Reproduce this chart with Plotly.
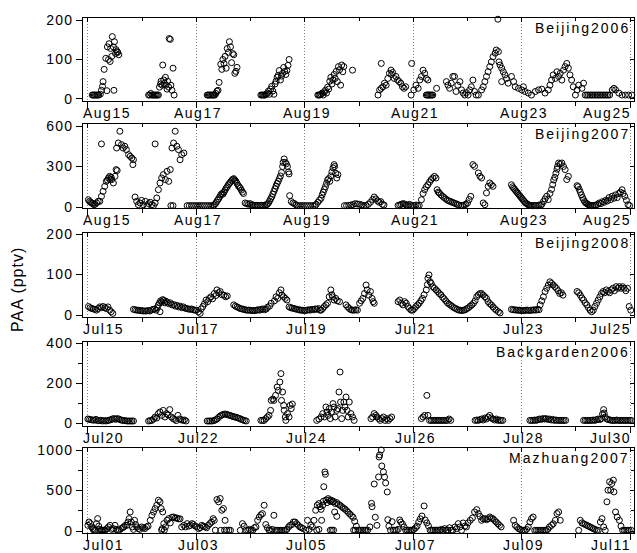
import plotly.graph_objects as go

# ---------------- data (day offset from first labelled date, PAA in pptv) ----------------
tick_days = [0, 2, 4, 6, 8, 10]
minor_days = [1, 3, 5, 7, 9]
labels_beijing2006 = ["Aug15", "Aug17", "Aug19", "Aug21", "Aug23", "Aug25"]
labels_beijing2007 = ["Aug15", "Aug17", "Aug19", "Aug21", "Aug23", "Aug25"]
labels_beijing2008 = ["Jul15", "Jul17", "Jul19", "Jul21", "Jul23", "Jul25"]
labels_backgarden2006 = ["Jul20", "Jul22", "Jul24", "Jul26", "Jul28", "Jul30"]
labels_mazhuang2007 = ["Jul01", "Jul03", "Jul05", "Jul07", "Jul09", "Jul11"]

panel_names = ["Beijing2006", "Beijing2007", "Beijing2008", "Backgarden2006", "Mazhuang2007"]
y_major = [[0, 100, 200], [0, 300, 600], [0, 100, 200], [0, 200, 400], [0, 500, 1000]]
y_minor = [[], [], [], [100, 300], [250, 750]]
y_ranges = [[-5.1, 205.1], [-7.4, 614.8], [-4.9, 202.5], [-15, 405], [-24.7, 1024.7]]

beijing2006 = [
    (0.08,10),(0.10,10),(0.12,10),(0.14,10),(0.16,10),(0.18,10),(0.20,10),(0.23,12),(0.25,22),(0.27,32),(0.28,44),(0.30,75),(0.33,103),(0.35,21),(0.36,132),(0.38,100),(0.39,140),(0.41,95),(0.42,128),(0.44,108),(0.45,158),(0.47,132),(0.48,22),(0.49,145),(0.51,115),(0.52,125),(0.54,120),(0.55,118),(0.57,112),
    (1.12,10),(1.14,10),(1.16,14),(1.18,10),(1.20,10),(1.22,10),(1.24,10),(1.26,10),(1.28,10),(1.30,10),(1.32,30),(1.34,38),(1.35,45),(1.37,35),(1.38,86),(1.40,48),(1.41,40),(1.43,55),(1.44,35),(1.46,25),(1.47,45),(1.49,30),(1.50,153),(1.52,151),(1.53,35),(1.55,22),(1.57,78),(1.59,10),
    (2.20,10),(2.22,10),(2.24,10),(2.26,10),(2.28,10),(2.30,10),(2.32,10),(2.34,10),(2.36,14),(2.38,20),(2.40,22),(2.42,42),(2.45,88),(2.47,75),(2.49,100),(2.51,90),(2.53,108),(2.55,78),(2.57,128),(2.59,118),(2.61,145),(2.63,132),(2.65,92),(2.67,115),(2.69,112),(2.71,65),(2.73,70),(2.75,80),
    (3.19,10),(3.21,10),(3.23,10),(3.25,10),(3.27,10),(3.29,12),(3.31,15),(3.33,20),(3.35,12),(3.37,25),(3.39,32),(3.41,20),(3.43,12),(3.45,38),(3.47,45),(3.49,55),(3.51,60),(3.53,72),(3.55,48),(3.57,58),(3.59,65),(3.61,80),(3.63,70),(3.65,62),(3.67,72),(3.69,85),(3.71,100),
    (4.24,10),(4.26,10),(4.28,10),(4.30,12),(4.32,15),(4.34,10),(4.36,18),(4.38,22),(4.40,15),(4.42,30),(4.44,25),(4.46,45),(4.48,55),(4.50,38),(4.52,48),(4.54,62),(4.56,52),(4.58,70),(4.60,44),(4.62,82),(4.64,74),(4.66,35),(4.68,86),(4.70,69),(4.72,82),(4.88,73),
    (5.35,10),(5.38,23),(5.41,90),(5.41,27),(5.44,31),(5.47,40),(5.50,35),(5.53,52),(5.56,65),(5.59,73),(5.60,62),(5.62,67),(5.65,52),(5.68,57),(5.71,48),(5.74,44),(5.77,40),(5.80,31),(5.83,27),(5.86,31),
    (5.96,10),(5.97,90),(6.01,23),(6.05,35),(6.09,27),(6.12,48),(6.15,57),(6.18,73),(6.21,65),(6.24,52),(6.27,48),(6.24,10),(6.26,10),(6.28,10),(6.30,10),(6.32,10),(6.34,10),(6.36,10),(6.43,27),
    (6.61,44),(6.64,35),(6.67,27),(6.70,40),(6.73,57),(6.76,57),(6.79,19),(6.82,35),(6.86,44),(6.89,23),(6.92,15),(6.95,10),(6.98,16),(7.01,10),(7.04,23),(7.07,31),(7.10,48),(7.13,19),(7.16,10),(7.20,10),
    (7.26,23),(7.29,31),(7.32,44),(7.35,57),(7.38,69),(7.41,82),(7.44,94),(7.47,107),(7.51,116),(7.53,124),(7.56,202),(7.57,120),(7.58,94),(7.60,86),(7.63,78),(7.63,44),(7.66,69),(7.69,61),(7.72,52),(7.75,40),(7.81,57),
    (7.85,44),(7.88,31),(7.94,27),(8.00,23),(8.03,31),(8.06,19),(8.12,15),(8.18,10),(8.25,19),(8.31,23),(8.37,25),(8.43,15),(8.49,23),
    (8.52,35),(8.55,48),(8.58,61),(8.62,52),(8.65,69),(8.68,57),(8.71,65),(8.74,48),(8.77,73),(8.80,82),(8.83,90),(8.86,78),(8.89,61),(8.92,48),(8.95,31),(8.99,10),(9.02,23),(9.05,35),(9.11,27),(9.14,40),
    (9.17,10),(9.20,10),(9.23,10),(9.26,10),(9.29,10),(9.32,10),(9.35,10),(9.38,10),(9.41,10),(9.44,10),(9.47,10),(9.50,10),(9.53,10),(9.56,10),(9.59,10),(9.62,10),(9.67,23),(9.70,27),(9.73,23),(9.79,15),(9.85,10),(9.91,10),(9.97,10),(10.03,10),
]

beijing2007 = [
    (0.01,54),(0.03,42),(0.05,35),(0.07,30),(0.09,25),(0.11,17),(0.13,20),(0.16,30),(0.19,42),(0.22,42),(0.25,467),(0.25,79),(0.28,116),(0.31,153),(0.34,190),(0.36,200),(0.38,215),(0.40,227),(0.41,203),(0.43,220),(0.44,203),(0.47,178),(0.50,227),(0.52,277),(0.53,437),(0.54,270),(0.56,474),(0.59,561),(0.62,462),(0.65,437),(0.68,450),(0.71,425),(0.75,388),(0.78,375),(0.81,363),(0.83,314),(0.84,350),
    (0.87,74),(0.90,42),(0.93,17),(0.96,30),(0.99,49),(1.02,17),(1.06,42),(1.09,10),(1.12,25),(1.15,35),(1.18,17),(1.21,10),
    (1.24,467),(1.24,30),(1.27,67),(1.30,128),(1.33,178),(1.36,215),(1.39,240),(1.43,203),(1.46,264),(1.49,190),(1.52,277),(1.53,10),(1.55,437),(1.57,10),(1.58,474),(1.61,561),(1.64,450),(1.67,425),(1.70,350),(1.73,388),(1.77,400),
    (1.83,10),(1.87,10),(1.91,10),(1.95,10),(1.99,10),(2.03,10),(2.07,10),(2.11,10),(2.15,10),(2.19,10),(2.23,10),(2.27,10),(2.31,10),
    (2.33,15),(2.35,25),(2.37,35),(2.39,50),(2.41,60),(2.43,75),(2.45,90),(2.47,100),(2.49,95),(2.51,110),(2.53,125),(2.55,140),(2.57,150),(2.59,165),(2.61,175),(2.63,185),(2.65,195),(2.67,205),(2.69,210),(2.71,200),(2.73,190),(2.75,175),(2.77,160),(2.79,150),(2.81,140),(2.83,125),(2.85,110),(2.87,100),
    (2.90,30),(2.93,25),(2.96,20),(2.99,25),(3.02,15),(3.05,15),(3.08,12),(3.11,12),(3.14,12),(3.17,12),(3.20,12),(3.23,12),(3.26,14),(3.29,16),
    (3.31,20),(3.33,30),(3.35,45),(3.37,60),(3.39,75),(3.41,95),(3.43,115),(3.45,135),(3.47,155),(3.49,175),(3.51,190),(3.53,210),(3.55,230),(3.57,255),(3.59,300),(3.60,330),(3.62,356),(3.64,330),(3.66,320),(3.68,300),(3.70,260),(3.71,245),(3.72,84),(3.75,40),(3.78,30),(3.81,25),(3.84,15),
    (3.87,10),(3.91,10),(3.95,10),(3.99,10),(4.03,10),(4.07,10),(4.11,10),(4.15,10),(4.19,10),
    (4.21,20),(4.24,35),(4.27,50),(4.30,65),(4.32,90),(4.34,110),(4.36,130),(4.38,150),(4.40,175),(4.42,200),(4.44,210),(4.46,190),(4.48,230),(4.50,260),(4.52,290),(4.54,314),(4.55,300),(4.57,250),(4.59,215),(4.61,240),
    (4.73,10),(4.77,10),(4.81,12),(4.85,15),(4.89,18),(4.93,25),(4.97,22),(5.01,20),(5.05,15),(5.09,10),(5.13,12),(5.17,20),(5.21,35),(5.25,55),(5.28,74),(5.31,60),(5.34,45),(5.37,35),(5.40,40),(5.43,20),(5.46,15),
    (5.72,12),(5.75,15),(5.78,20),(5.81,25),(5.84,22),(5.87,15),(5.90,12),(5.93,20),(5.96,10),(5.99,12),(6.02,10),(6.05,15),(6.08,10),(6.11,12),
    (6.15,54),(6.18,100),(6.21,128),(6.24,150),(6.27,165),(6.30,185),(6.33,203),(6.36,215),(6.39,227),(6.42,215),(6.44,128),(6.46,110),(6.48,104),(6.51,90),(6.54,79),(6.57,70),(6.60,60),(6.63,50),(6.66,45),(6.69,40),(6.72,35),(6.75,30),(6.78,25),(6.81,20),(6.84,15),(6.88,12),(6.91,10),(6.94,15),(6.97,20),(7.00,30),(7.03,55),(7.06,79),
    (7.10,314),(7.13,301),(7.20,252),(7.23,227),(7.26,215),(7.29,30),(7.32,17),(7.35,104),(7.38,153),(7.41,178),(7.44,165),(7.47,153),
    (7.81,165),(7.83,150),(7.85,140),(7.87,130),(7.89,120),(7.91,110),(7.93,100),(7.95,90),(7.97,80),(7.99,70),(8.01,60),(8.03,50),(8.05,40),(8.07,30),(8.09,25),(8.11,20),(8.13,15),(8.15,12),(8.17,10),(8.20,10),(8.23,12),(8.26,10),(8.29,10),(8.32,15),(8.35,12),
    (8.37,20),(8.40,40),(8.43,60),(8.46,80),(8.49,55),(8.52,100),(8.55,130),(8.57,165),(8.59,200),(8.61,220),(8.63,250),(8.65,280),(8.66,300),(8.68,326),(8.71,320),(8.74,326),(8.77,300),(8.80,277),(8.83,203),(8.86,227),
    (9.02,158),(9.04,150),(9.06,130),(9.08,110),(9.10,90),(9.12,70),(9.14,55),(9.16,40),(9.18,30),(9.20,25),(9.22,20),(9.24,15),(9.26,12),(9.28,10),(9.31,10),(9.34,12),(9.37,15),(9.40,20),(9.43,30),(9.46,25),(9.49,40),(9.52,35),
    (9.55,50),(9.58,45),(9.61,70),(9.64,55),(9.67,80),(9.70,65),(9.73,90),(9.76,70),(9.79,100),(9.82,110),(9.85,128),(9.87,100),(9.90,79),(9.93,50),(9.96,17),(9.99,10),
]

beijing2008 = [
    (0.01,21),(0.04,18),(0.07,16),(0.10,15),(0.13,14),(0.16,12),(0.19,16),(0.22,20),(0.25,18),(0.28,21),(0.31,18),(0.34,16),(0.37,20),(0.40,12),(0.43,8),(0.46,4),
    (0.84,14),(0.87,13),(0.90,12),(0.93,12),(0.96,11),(0.99,11),(1.02,10),(1.05,10),(1.08,10),(1.11,11),(1.14,10),(1.17,12),(1.20,14),(1.23,15),(1.26,12),
    (1.28,18),(1.30,25),(1.32,30),(1.33,8),(1.34,35),(1.36,32),(1.38,38),(1.40,36),(1.42,30),(1.44,34),(1.46,32),(1.49,28),(1.52,30),(1.55,25),(1.58,26),(1.61,22),(1.64,24),(1.67,20),(1.70,22),(1.73,18),(1.76,20),(1.79,17),(1.82,16),(1.85,15),(1.88,14),(1.91,15),(1.94,13),(1.97,12),(2.00,12),
    (2.04,8),(2.07,4),(2.09,15),(2.12,21),(2.15,28),(2.18,37),(2.21,33),(2.24,41),(2.27,45),(2.30,40),(2.33,53),(2.36,48),(2.38,62),(2.41,55),(2.44,58),(2.47,50),(2.51,49),(2.54,45),(2.57,47),
    (2.69,25),(2.72,22),(2.75,20),(2.78,18),(2.81,16),(2.84,15),(2.87,14),(2.90,13),(2.93,12),(2.96,12),(2.99,12),(3.02,11),(3.05,11),(3.08,11),(3.11,12),(3.14,13),(3.17,12),(3.20,14),(3.23,15),(3.26,13),(3.29,15),
    (3.31,19),(3.35,22),(3.38,29),(3.42,-8),(3.44,35),(3.47,45),(3.50,41),(3.53,55),(3.56,62),(3.58,49),(3.61,45),(3.64,41),(3.67,37),
    (3.71,20),(3.74,18),(3.77,17),(3.80,16),(3.83,15),(3.86,14),(3.89,13),(3.92,12),(3.95,12),(3.98,11),(4.01,11),(4.04,12),(4.07,13),(4.10,12),(4.13,14),(4.16,13),(4.19,15),(4.22,14),(4.25,16),(4.28,12),
    (4.30,12),(4.33,16),(4.36,21),(4.39,25),(4.42,29),(4.45,45),(4.48,62),(4.50,50),(4.51,45),(4.54,37),(4.57,41),(4.60,35),(4.64,33),
    (4.76,25),(4.79,20),(4.82,16),(4.85,13),(4.88,12),(4.91,12),(4.94,13),(4.97,12),
    (5.01,29),(5.04,35),(5.07,41),(5.10,53),(5.13,74),(5.15,62),(5.18,49),(5.21,58),(5.24,41),(5.26,33),(5.28,29),
    (5.72,33),(5.75,37),(5.78,29),(5.81,25),(5.84,33),(5.87,29),(5.90,21),(5.93,16),(5.96,12),(5.99,12),(6.02,16),
    (6.05,21),(6.08,25),(6.11,29),(6.14,35),(6.17,41),(6.20,50),
    (6.24,62),(6.26,75),(6.27,91),(6.29,99),(6.31,82),(6.33,78),(6.36,70),(6.39,66),(6.42,62),(6.45,58),(6.48,53),(6.51,50),(6.54,44),(6.57,40),(6.60,35),(6.63,30),(6.66,27),(6.69,24),(6.72,21),(6.75,18),(6.78,16),(6.81,14),(6.84,12),(6.87,12),(6.90,11),(6.93,12),(6.96,13),(6.99,16),(7.02,18),(7.05,22),(7.08,25),(7.11,29),(7.14,35),(7.17,45),(7.20,50),(7.23,53),(7.26,53),(7.29,49),(7.32,45),(7.35,41),(7.38,33),(7.41,28),(7.44,25),(7.47,20),(7.50,16),(7.53,12),(7.57,8),(7.60,5),
    (7.81,14),(7.84,13),(7.87,13),(7.90,12),(7.93,12),(7.96,12),(7.99,11),(8.02,11),(8.05,11),(8.08,12),(8.11,12),(8.14,11),(8.17,12),(8.20,12),(8.23,13),(8.26,12),(8.29,14),(8.32,13),
    (8.34,25),(8.37,35),(8.40,45),(8.43,58),(8.46,66),(8.49,74),(8.52,82),(8.55,78),(8.58,74),(8.61,70),(8.64,66),(8.67,60),(8.70,53),(8.73,55),(8.76,49),
    (9.02,58),(9.05,55),(9.08,49),(9.11,42),(9.14,37),(9.17,30),(9.20,25),(9.23,18),(9.26,12),(9.29,8),(9.32,12),(9.35,21),(9.38,29),(9.41,37),(9.44,45),(9.47,53),(9.50,58),(9.53,55),(9.56,62),(9.59,58),(9.62,55),(9.65,62),(9.68,66),(9.71,60),(9.74,70),(9.77,66),(9.80,70),(9.83,66),(9.86,70),(9.89,66),(9.92,60),(9.95,66),(9.98,21),(10.01,12),
]

backgarden2006 = [
    (0.00,20),(0.03,18),(0.06,16),(0.09,15),(0.12,14),(0.15,18),(0.18,12),(0.21,12),(0.24,14),(0.27,10),(0.30,12),(0.33,10),(0.36,12),(0.39,14),(0.42,16),(0.45,20),(0.48,22),(0.51,18),(0.54,22),(0.57,20),(0.60,16),(0.63,14),(0.66,12),(0.69,12),(0.72,10),(0.75,10),(0.78,10),(0.81,10),(0.84,10),
    (1.12,10),(1.15,12),(1.18,13),(1.21,20),(1.24,30),(1.27,25),(1.30,47),(1.33,55),(1.36,38),(1.39,63),(1.42,30),(1.45,47),(1.48,40),(1.51,67),(1.54,30),(1.57,22),(1.60,18),(1.63,12),(1.66,38),(1.69,20),(1.72,17),(1.75,13),(1.78,15),(1.81,10),
    (2.20,10),(2.23,10),(2.26,10),(2.29,10),(2.32,12),(2.35,15),(2.38,20),(2.41,28),(2.44,35),(2.47,40),(2.50,43),(2.53,45),(2.56,43),(2.59,40),(2.62,38),(2.65,35),(2.68,32),(2.71,30),(2.74,28),(2.77,25),(2.80,22),(2.83,18),(2.86,15),(2.89,12),(2.92,10),
    (3.19,13),(3.22,13),(3.25,13),(3.28,22),(3.31,30),(3.34,38),(3.37,63),(3.38,113),(3.41,120),(3.43,113),(3.46,138),(3.49,180),(3.51,163),(3.54,205),(3.56,247),(3.57,113),(3.59,155),(3.61,88),(3.62,63),(3.64,30),(3.65,13),(3.68,47),(3.71,30),(3.73,88),(3.75,72),(3.77,95),
    (4.22,13),(4.26,20),(4.30,30),(4.33,47),(4.36,30),(4.39,80),(4.41,55),(4.43,38),(4.45,72),(4.47,22),(4.49,55),(4.52,97),(4.54,80),(4.56,30),(4.59,63),(4.61,72),(4.63,155),(4.65,255),(4.66,105),(4.68,22),(4.70,63),(4.72,105),(4.74,80),(4.76,130),(4.78,63),(4.80,30),(4.82,105),(4.85,47),(4.88,30),(4.91,13),
    (5.22,22),(5.25,30),(5.28,47),(5.31,38),(5.33,30),(5.36,22),(5.39,13),(5.42,22),(5.45,30),(5.48,13),(5.51,22),(5.54,13),(5.57,22),(5.60,30),
    (6.15,22),(6.18,30),(6.21,38),(6.25,138),(6.27,38),(6.30,13),(6.33,13),(6.36,13),(6.39,13),(6.42,13),(6.45,13),(6.48,13),(6.51,13),(6.54,13),(6.57,13),(6.60,13),(6.63,13),(6.66,20),(6.69,13),
    (7.14,13),(7.17,15),(7.20,13),(7.23,17),(7.26,20),(7.29,15),(7.32,25),(7.35,20),(7.38,30),(7.41,38),(7.44,25),(7.47,20),(7.50,15),(7.53,20),(7.56,13),(7.59,15),(7.62,13),(7.65,13),
    (8.15,13),(8.18,13),(8.21,13),(8.24,15),(8.27,13),(8.30,17),(8.33,20),(8.36,18),(8.39,22),(8.42,20),(8.45,22),(8.48,18),(8.51,20),(8.54,15),(8.57,18),(8.60,13),(8.63,15),(8.66,13),(8.69,13),(8.72,13),(8.75,13),(8.78,13),(8.81,13),
    (9.14,13),(9.17,13),(9.20,13),(9.23,13),(9.26,13),(9.29,13),(9.32,15),(9.35,13),(9.38,17),(9.41,20),(9.44,17),(9.47,22),(9.49,45),(9.51,67),(9.52,50),(9.54,30),(9.57,20),(9.60,17),(9.63,15),(9.66,13),(9.69,13),(9.72,13),(9.75,15),(9.78,13),(9.81,13),(9.84,13),(9.87,13),(9.90,13),(9.93,13),(9.96,13),(9.99,13),(10.02,13),
]

mazhuang2007 = [
    (0.00,70),(0.02,111),(0.05,90),(0.07,50),(0.09,30),(0.10,17),(0.12,8),(0.14,10),(0.16,91),(0.18,153),(0.20,60),(0.22,20),(0.24,10),(0.26,8),(0.28,10),(0.30,10),(0.32,10),(0.35,29),(0.38,50),(0.41,70),(0.44,20),(0.47,29),(0.50,70),(0.52,20),(0.55,8),(0.58,10),(0.61,29),(0.64,40),(0.66,50),(0.69,70),(0.72,70),(0.74,111),(0.76,153),(0.78,235),(0.80,111),(0.82,50),(0.84,20),(0.86,132),(0.88,80),(0.90,50),(0.93,29),(0.96,20),(0.99,50),(1.02,40),(1.05,30),(1.08,50),(1.11,60),
    (1.15,132),(1.18,194),(1.21,235),(1.24,277),(1.27,318),(1.30,380),(1.33,360),(1.35,277),(1.37,29),(1.38,235),(1.40,91),(1.43,50),(1.46,132),(1.49,153),(1.52,100),(1.55,170),(1.58,173),(1.61,160),(1.64,161),(1.67,150),(1.70,150),(1.73,50),(1.36,10),(1.41,10),
    (1.77,70),(1.80,50),(1.83,91),(1.86,60),(1.89,70),(1.92,91),(1.95,80),(1.98,60),(2.01,50),(2.04,29),(2.07,40),(2.10,70),(2.13,60),(2.16,50),(2.19,40),(2.22,70),(2.25,91),(2.28,110),(2.31,153),(2.33,130),(2.35,10),(2.38,388),(2.41,360),(2.44,401),(2.45,8),(2.47,256),(2.50,277),(2.52,10),(2.53,132),(2.56,10),(2.60,10),(2.63,8),
    (2.81,8),(2.85,91),(2.88,60),(2.91,10),(2.95,8),(2.98,20),(3.01,10),(3.04,8),(3.07,40),(3.10,50),(3.13,132),(3.16,173),(3.19,200),(3.22,215),(3.25,318),(3.28,80),(3.31,40),(3.34,10),(3.37,8),(3.40,20),(3.43,194),(3.46,10),(3.49,8),(3.52,8),(3.55,8),(3.58,8),(3.61,8),(3.64,10),(3.67,20),(3.70,50),(3.73,70),(3.76,80),(3.79,111),(3.82,111),(3.85,90),(3.88,70),(3.91,50),(3.94,40),(3.97,30),
    (4.02,10),(4.05,132),(4.08,20),(4.11,70),(4.14,50),(4.17,132),(4.20,256),(4.22,10),(4.23,318),(4.26,339),(4.26,20),(4.28,300),(4.30,267),(4.31,132),(4.33,317),(4.34,366),(4.35,547),(4.37,729),(4.38,700),(4.39,383),(4.41,350),(4.43,400),(4.45,383),(4.47,366),(4.47,10),(4.49,380),(4.50,10),(4.51,360),(4.53,366),(4.53,10),(4.55,235),(4.56,339),(4.59,350),(4.59,181),(4.62,330),(4.65,317),(4.68,300),(4.71,284),(4.74,270),(4.77,251),(4.80,230),(4.83,210),(4.86,190),(4.89,169),(4.90,10),(4.92,119),(4.93,10),(4.95,60),(4.98,10),(5.01,10),(5.04,10),(5.07,10),(5.10,10),(5.13,10),(5.16,10),
    (5.20,50),(5.23,342),(5.24,300),(5.28,580),(5.30,170),(5.33,70),(5.36,667),(5.37,914),(5.38,939),(5.41,1000),(5.42,803),(5.45,729),(5.47,667),(5.49,593),(5.52,482),(5.53,140),(5.55,60),
    (5.58,10),(5.61,115),(5.63,10),(5.66,10),(5.69,10),(5.72,20),(5.75,136),(5.77,110),(5.80,86),(5.83,50),(5.86,10),(5.89,10),(5.92,10),(5.95,10),(5.98,10),(6.01,20),(6.04,37),(6.07,60),(6.10,111),(6.13,150),(6.16,185),(6.20,309),(6.22,136),(6.25,100),(6.28,62),(6.31,10),(6.34,10),(6.37,10),(6.40,10),(6.43,10),(6.46,10),(6.49,10),(6.52,20),(6.55,10),(6.58,29),(6.61,10),(6.64,10),(6.67,40),(6.70,10),(6.73,10),
    (6.77,50),(6.80,29),(6.83,91),(6.86,50),(6.89,8),(6.92,99),(6.95,60),(6.98,50),(7.01,100),(7.05,132),(7.09,160),(7.13,235),(7.17,264),(7.20,215),(7.23,180),(7.26,132),(7.29,150),(7.32,153),(7.35,140),(7.38,150),(7.41,173),(7.44,160),(7.47,150),(7.50,130),(7.53,110),(7.56,90),(7.59,70),(7.62,50),
    (7.85,132),(7.88,70),(7.91,50),(7.94,30),(7.97,20),(8.00,8),(8.03,8),(8.06,8),(8.09,20),(8.12,50),(8.15,111),(8.18,153),(8.21,173),(8.24,8),(8.27,8),(8.30,8),(8.33,8),(8.36,8),(8.39,8),(8.42,8),(8.45,8),(8.48,20),(8.51,50),(8.55,70),(8.58,90),(8.62,132),(8.65,215),(8.68,235),(8.71,132),
    (9.05,8),(9.08,132),(9.11,100),(9.14,90),(9.17,80),(9.20,70),(9.23,60),(9.26,50),(9.29,40),(9.32,29),(9.35,20),(9.38,8),(9.41,8),(9.45,111),(9.48,153),(9.51,50),(9.54,8),(9.57,360),(9.59,504),(9.62,607),(9.64,504),(9.66,586),(9.69,628),(9.70,483),(9.73,235),(9.76,173),(9.80,132),(9.83,60),(9.86,8),(9.89,8),(9.92,8),(9.95,8),(9.98,8),(10.02,8),
]

panel_data = [beijing2006, beijing2007, beijing2008, backgarden2006, mazhuang2007]
panel_labels = [labels_beijing2006, labels_beijing2007, labels_beijing2008,
                labels_backgarden2006, labels_mazhuang2007]

# ---------------- layout geometry ----------------
W, H = 637, 553
ML, MR, MT, MB = 83, 3, 18, 20
panel_px = [(18, 101), (124, 208), (233, 317), (342, 426), (448, 533)]
x_range = [-0.09, 10.07]
FONT = "Liberation Sans, Arial, sans-serif"


def spaced(text, sp):
    return f'<span style="letter-spacing:{sp}px">{text}</span>'


fig = go.Figure()
layout = {}
annotations = []
ph = H - MT - MB
pw = W - ML - MR

for i in range(5):
    k = i + 1
    sx = "" if k == 1 else str(k)
    xa, ya = "x" + sx, "y" + sx
    data = panel_data[i]
    fig.add_trace(go.Scatter(
        x=[d for d, v in data], y=[v for d, v in data], mode="markers",
        xaxis=xa, yaxis=ya, cliponaxis=False, showlegend=False, hoverinfo="skip",
        marker=dict(symbol="circle-open", size=6, color="black", line=dict(width=1, color="black")),
    ))
    top, bot = panel_px[i]
    dom = [(H - MB - bot) / ph, (H - MB - top) / ph]
    layout["xaxis" + sx] = dict(
        domain=[0, 1], anchor=ya, range=x_range, tickmode="array", tickvals=tick_days,
        showticklabels=False, ticks="outside", ticklen=6, tickwidth=1, tickcolor="black",
        showline=True, linecolor="black", linewidth=1, mirror=True,
        showgrid=True, gridcolor="#808080", griddash="1px,2px", gridwidth=1, zeroline=False,
        minor=dict(tickvals=minor_days, ticks="outside", ticklen=4, tickcolor="black", showgrid=False),
    )
    layout["yaxis" + sx] = dict(
        domain=dom, anchor=xa, range=y_ranges[i], tickmode="array", tickvals=y_major[i],
        ticktext=[spaced(str(v), 1.2) for v in y_major[i]],
        ticks="outside", ticklen=6, tickwidth=1, tickcolor="black",
        showline=True, linecolor="black", linewidth=1, mirror=True,
        showgrid=False, zeroline=False, tickfont=dict(size=14, color="black", family=FONT),
        minor=dict(tickvals=y_minor[i], ticks="outside", ticklen=4, tickcolor="black", showgrid=False),
    )
    # mirrored inward ticks on top and right
    tx = str(k + 5)
    layout["xaxis" + tx] = dict(
        overlaying=xa, anchor=ya, side="top", range=x_range, tickmode="array", tickvals=tick_days,
        ticks="inside", ticklen=4, tickcolor="black", showticklabels=False, showline=False,
        showgrid=False, zeroline=False,
        minor=dict(tickvals=minor_days, ticks="inside", ticklen=3, tickcolor="black", showgrid=False),
    )
    layout["yaxis" + tx] = dict(
        overlaying=ya, anchor=xa, side="right", range=y_ranges[i], tickmode="array",
        tickvals=y_major[i], ticks="inside", ticklen=4, tickcolor="black", showticklabels=False,
        showline=False, showgrid=False, zeroline=False,
        minor=dict(tickvals=y_minor[i], ticks="inside", ticklen=3, tickcolor="black", showgrid=False),
    )
    fig.add_trace(go.Scatter(x=[], y=[], xaxis="x" + tx, yaxis=ya, showlegend=False, hoverinfo="skip"))
    fig.add_trace(go.Scatter(x=[], y=[], xaxis=xa, yaxis="y" + tx, showlegend=False, hoverinfo="skip"))

    # date tick labels
    labs = panel_labels[i]
    last = len(labs) - 1
    for j, (d, lab) in enumerate(zip(tick_days, labs)):
        if j == 0:
            anc, xs = "left", -7
        elif j == last:
            anc, xs = "right", 3
        else:
            anc, xs = "center", 2
        annotations.append(dict(
            text=spaced(lab, 1.5), x=d, xref=xa, y=0, yref=ya + " domain",
            yanchor="top", xanchor=anc, xshift=xs, yshift=-2, showarrow=False,
            font=dict(size=14, color="black", family=FONT),
        ))
    # panel title
    annotations.append(dict(
        text=spaced(panel_names[i], 2), x=1, xref=xa + " domain", xanchor="right", xshift=-2,
        y=1, yref=ya + " domain", yanchor="top", yshift=0, showarrow=False,
        font=dict(size=14, color="black", family=FONT),
    ))

annotations.append(dict(
    text=spaced("PAA (pptv)", 1), textangle=-90, xref="paper", x=(18 - ML) / pw, xanchor="center",
    yref="paper", y=(H - MB - 290) / ph, yanchor="middle", showarrow=False,
    font=dict(size=16, color="black", family=FONT),
))

fig.update_layout(
    width=W, height=H, margin=dict(l=ML, r=MR, t=MT, b=MB, pad=0),
    paper_bgcolor="white", plot_bgcolor="white", showlegend=False,
    font=dict(family=FONT, color="black"), annotations=annotations, **layout,
)

fig.write_html("out.html")
